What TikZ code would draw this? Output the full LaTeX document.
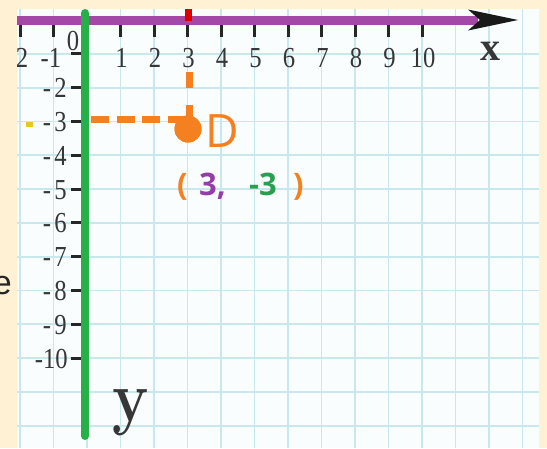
\documentclass[tikz,border=0pt]{standalone}
\usepackage{fontspec}
\newfontfamily\osans{Open Sans}
\newfontfamily\lsans{Liberation Sans}
\newfontfamily\lserif{Liberation Serif}
\definecolor{beige}{RGB}{255,242,212}
\definecolor{paper}{RGB}{249,253,254}
\definecolor{gridc}{RGB}{200,232,238}
\definecolor{axpurple}{RGB}{164,72,168}
\definecolor{axgreen}{RGB}{40,176,72}
\definecolor{dorange}{RGB}{245,128,32}
\definecolor{tpurple}{RGB}{150,60,170}
\definecolor{tgreen}{RGB}{40,160,80}
\definecolor{labgray}{RGB}{55,55,55}
\definecolor{ydot}{RGB}{230,200,30}
\newcommand\dgt[1]{\scalebox{0.85}[1]{#1}}
\begin{document}
\begin{tikzpicture}[x=1pt,y=-1pt,
  gridline/.style={draw=gridc,line width=1.8pt},
  lab/.style={text=labgray,font=\lserif\fontsize{29}{30}\selectfont,inner sep=0pt},
  tickmark/.style={draw=black!85,line width=3pt},
  dashline/.style={draw=dorange,line width=7pt},
  coord/.style={font=\osans\bfseries\fontsize{31}{31}\selectfont,inner sep=0pt,anchor=base west}]
\fill[beige] (0,0) rectangle (547,448);
\useasboundingbox (0,0) rectangle (547,448);
\node[font=\lsans\fontsize{34}{34}\selectfont,text=black!85,inner sep=0pt,anchor=base east] (e) at (12,294) {e};
\fill[paper] (17,9) rectangle (539,448);
\begin{scope}
\clip (17,9) rectangle (539,448);
% grid
\foreach \k in {-2,...,13} \draw[gridline] ({87+33.5*\k},9) -- ({87+33.5*\k},448);
\foreach \k in {1,...,12} \draw[gridline] (17,{20+33.8*\k}) -- (539,{20+33.8*\k});
% x axis
\draw[axpurple,line width=9pt] (17,20) -- (478,20);
\fill[black!90] (518,20) -- (468,9.5) -- (480,20) -- (468,30.5) -- cycle;
\fill[red!85!black] (185,9) rectangle (192,21);
\foreach \k in {-2,-1,1,2,3,4,5,6,7,8,9,10}
  \draw[tickmark] ({87+33.5*\k},25) -- ({87+33.5*\k},37);
\foreach \k in {1,...,10}
  \node[lab,anchor=base] (xl\k) at ({88+33.5*\k},67) {\dgt{\k}};
\node[lab,anchor=base] (xlm1) at (51,67) {\dgt{-1}};
\node[lab,anchor=base] (xlm2) at (18,67) {\dgt{-2}};
\node[lab,anchor=base] (xl0) at (73,50) {\dgt{0}};
\node[font=\lserif\bfseries\fontsize{40}{40}\selectfont,text=labgray,inner sep=0pt,anchor=base] (xname) at (490,60) {x};
% y axis ticks and labels
\foreach \k in {1,...,10}
  \draw[tickmark] (71,{20+33.8*\k}) -- (86,{20+33.8*\k});
\foreach \k in {2,...,9}
  \node[lab,anchor=base east] (yl\k) at (67,{30+33.8*\k}) {\dgt{-\hspace{4pt}\k}};
\node[lab,anchor=base east] (yl10) at (68,{30+33.8*10}) {\dgt{-10}};
\fill[ydot] (26,121.5) rectangle (33,126.5);
\node[font=\fontsize{72}{72}\selectfont\bfseries,text=labgray,inner sep=0pt,anchor=base] (yname) at (131,421) {\scalebox{0.85}[1]{y}};
% green y axis
\draw[axgreen,line width=8pt,line cap=round] (85,13) -- (85,436);
% point D
\coordinate (hs) at (91,119);
\coordinate (vs) at (189,72);
\node[circle,fill=dorange,minimum size=27pt,inner sep=0pt] (D) at (188,129) {};
\draw[dashline,dash pattern=on 18pt off 7.5pt] (hs) -- (hs -| D.center);
\draw[dashline,dash pattern=on 16pt off 17pt] (vs) -- (vs |- D.center);
\node[circle,fill=dorange,minimum size=27pt,inner sep=0pt] at (D) {};
\node[font=\osans\fontsize{46}{46}\selectfont,text=dorange,inner sep=0pt,anchor=base west] (Dl) at (205,147) {D};
\node[coord,text=dorange] (p1) at (177,195) {(};
\node[coord,text=tpurple] (p2) at (199,195) {3,};
\node[coord,text=tgreen] (p3) at (249,195) {-3};
\node[coord,text=dorange] (p4) at (293,195) {)};
\end{scope}
\end{tikzpicture}
\end{document}
